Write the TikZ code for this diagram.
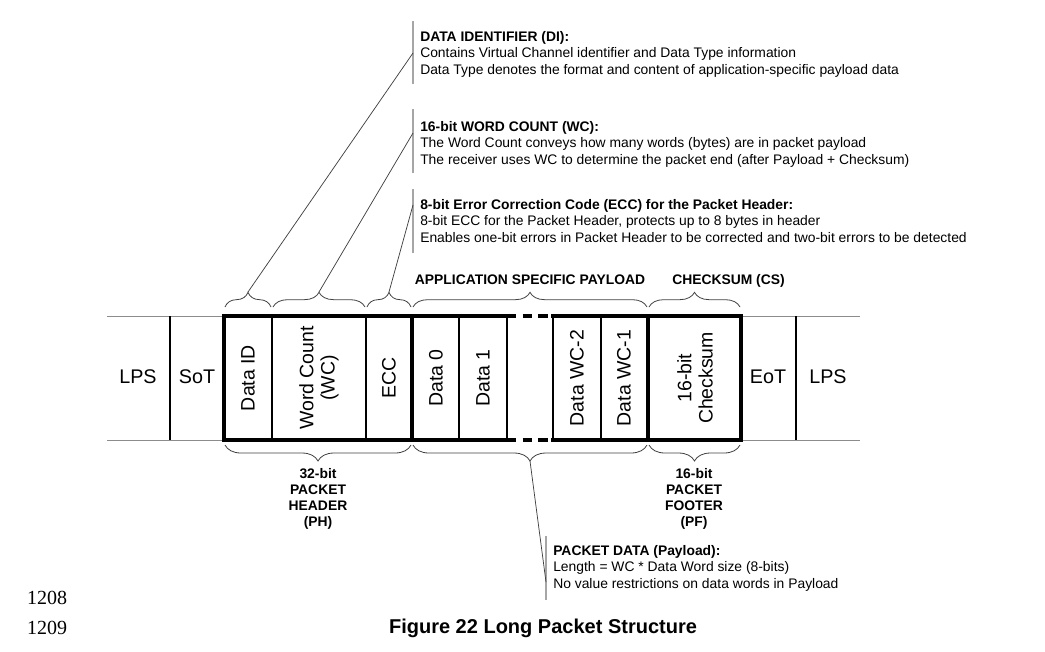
\documentclass[tikz,border=0pt]{standalone}
\usepackage{fontspec}
\setmainfont{Liberation Sans}
\newfontfamily\linenofont{Liberation Serif}
\usepackage{tikz}
\usetikzlibrary{decorations.pathreplacing}
\definecolor{wiregray}{HTML}{8C8C8C}
\definecolor{bargray}{HTML}{A6A6A6}
\definecolor{leadgray}{HTML}{404040}
\tikzset{
  field/.style={
    rotate=90,
    align=center,
    inner sep=0pt,
    font=\fontsize{14.6}{16}\selectfont
  },
  sidefield/.style={
    inner sep=0pt,
    font=\fontsize{14.8}{16}\selectfont
  },
  note/.style={
    anchor=north west,
    align=left,
    inner sep=0pt,
    font=\fontsize{10.4}{12.4}\selectfont
  },
  tag/.style={
    align=center,
    inner sep=0pt,
    font=\bfseries\fontsize{10.4}{12}\selectfont
  },
  fieldbrace/.style={
    decorate,
    decoration={brace, amplitude=#1},
    line width=0.6pt,
    draw=leadgray
  },
  thickedge/.style={line width=2.3pt, line cap=rect},
  thinedge/.style={line width=0.8pt},
  wire/.style={line width=0.7pt, draw=wiregray},
  leader/.style={line width=0.55pt, draw=leadgray},
  notebar/.style={line width=1.5pt, draw=bargray}
}
\begin{document}
\begin{tikzpicture}[x=0.75pt, y=-0.75pt]
  \useasboundingbox (0,0) rectangle (1045,651);

  % outer wire lines
  \draw[wire] (107,316) -- (224,316) (107,440) -- (224,440);
  \draw[wire] (741,316) -- (860,316) (741,440) -- (860,440);
  \foreach \x in {170,796}
    \draw[thinedge] (\x,316) -- (\x,440);

  % packet frame
  \draw[thickedge] (507,316) -- (224,316) -- (224,440) -- (507,440);
  \draw[thickedge] (553,316) -- (741,316) -- (741,440) -- (553,440);
  \draw[thickedge, line cap=butt, dash pattern=on 7pt off 4.7pt] (507,316) -- (553,316);
  \draw[thickedge, line cap=butt, dash pattern=on 7pt off 4.7pt] (507,440) -- (553,440);
  \foreach \x in {412,648}
    \draw[thickedge] (\x,316) -- (\x,440);
  \foreach \x in {272,366,459,507,553,601}
    \draw[thinedge] (\x,316) -- (\x,440);

  % field labels
  \node[sidefield] (lpsleft) at (138,377) {LPS};
  \node[sidefield] (sot) at (197,377) {SoT};
  \node[field] (dataid) at (248,378) {Data ID};
  \node[field] (wcount) at (319,378) {Word Count\\(WC)};
  \node[field] (ecc) at (389,378) {ECC};
  \node[field] (dzero) at (436,378) {Data 0};
  \node[field] (done) at (483,378) {Data 1};
  \node[field] (dwctwo) at (577,378) {Data WC-2};
  \node[field] (dwcone) at (624,378) {Data WC-1};
  \node[field] (csum) at (695,378) {16-bit\\Checksum};
  \node[sidefield] (eot) at (768,377) {EoT};
  \node[sidefield] (lpsright) at (828,377) {LPS};

  % braces above
  \draw[fieldbrace=11pt] (225,307) -- (271,307);
  \draw[fieldbrace=11pt] (273,307) -- (365,307);
  \draw[fieldbrace=11pt] (367,307) -- (411,307);
  \draw[fieldbrace=11pt] (413,307) -- (647,307);
  \draw[fieldbrace=11pt] (649,307) -- (740,307);
  \coordinate (ditip) at (248,292);
  \coordinate (wctip) at (319,292);
  \coordinate (ecctip) at (389,292);

  % braces below
  \draw[fieldbrace=12pt] (411,445) -- (225,445);
  \draw[fieldbrace=12pt] (647,445) -- (413,445);
  \draw[fieldbrace=12pt] (740,445) -- (649,445);
  \coordinate (pdtip) at (530,461);

  \node[tag, anchor=base] (payloadtag) at (530,284) {APPLICATION SPECIFIC PAYLOAD};
  \node[tag, anchor=base west] (cstag) at (672,284) {CHECKSUM (CS)};
  \node[tag] (phtag) at (318,499) {32-bit\\PACKET\\HEADER\\(PH)};
  \node[tag] (pftag) at (694,499) {16-bit\\PACKET\\FOOTER\\(PF)};

  % notes
  \draw[notebar] (413,21) -- (413,84);
  \coordinate (dibar) at (413,53);
  \node[note] (dinote) at (420,31) {\textbf{DATA IDENTIFIER (DI):}\\
    Contains Virtual Channel identifier and Data Type information\\
    Data Type denotes the format and content of application-specific payload data};
  \draw[notebar] (413,109) -- (413,173);
  \coordinate (wcbar) at (413,133);
  \node[note] (wcnote) at (420,121) {\textbf{16-bit WORD COUNT (WC):}\\
    The Word Count conveys how many words (bytes) are in packet payload\\
    The receiver uses WC to determine the packet end (after Payload + Checksum)};
  \draw[notebar] (413,189) -- (413,253);
  \coordinate (eccbar) at (413,205);
  \node[note] (eccnote) at (420,199) {\textbf{8-bit Error Correction Code (ECC) for the Packet Header:}\\
    8-bit ECC for the Packet Header, protects up to 8 bytes in header\\
    Enables one-bit errors in Packet Header to be corrected and two-bit errors to be detected};
  \draw[notebar] (546,536) -- (546,600);
  \coordinate (pdbar) at (546,582);
  \node[note] (pdnote) at (553,545) {\textbf{PACKET DATA (Payload):}\\
    Length = WC * Data Word size (8-bits)\\
    No value restrictions on data words in Payload};

  \draw[leader] (ditip) -- (dibar);
  \draw[leader] (wctip) -- (wcbar);
  \draw[leader] (ecctip) -- (eccbar);
  \draw[leader] (pdtip) -- (pdbar);

  % caption and line numbers
  \node[font=\linenofont\fontsize{15}{16}\selectfont, inner sep=0pt] (lineone) at (47,598) {1208};
  \node[font=\linenofont\fontsize{15}{16}\selectfont, inner sep=0pt] (linetwo) at (47,628) {1209};
  \node[font=\bfseries\fontsize{15}{16}\selectfont, inner sep=0pt] (caption) at (543,628) {Figure 22 Long Packet Structure};
\end{tikzpicture}
\end{document}
